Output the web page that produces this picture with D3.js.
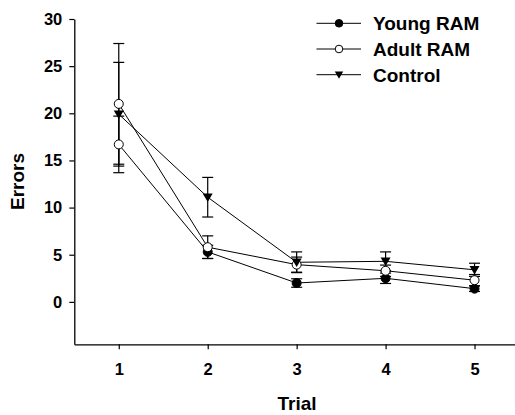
<!DOCTYPE html>
<html>
<head>
<meta charset="utf-8">
<script src="https://cdn.jsdelivr.net/npm/d3@7"></script>
<style>
  body { margin: 0; background: #fff; }
  text { font-family: "Liberation Sans", Arial, sans-serif; font-weight: bold; fill: #000; }
</style>
</head>
<body>
<svg id="chart" width="515" height="415"></svg>
<script>
// chart values
var trials = [1, 2, 3, 4, 5];
var youngMean = [16.7, 5.3, 2.0, 2.5, 1.4];
var youngErr  = [3.0, 0.7, 0.45, 0.55, 0.3];
var adultMean = [21.0, 5.8, 3.95, 3.3, 2.3];
var adultErr  = [6.4, 1.2, 0.8, 0.6, 0.6];
var controlMean = [19.9, 11.1, 4.2, 4.3, 3.4];
var controlErr  = [5.5, 2.1, 1.1, 1.0, 0.7];
var seriesNames = ["Young RAM", "Adult RAM", "Control"];
var yTicks = [0, 5, 10, 15, 20, 25, 30];

var series = [
  {name: seriesNames[0], mean: youngMean, err: youngErr, shape: "filled"},
  {name: seriesNames[1], mean: adultMean, err: adultErr, shape: "open"},
  {name: seriesNames[2], mean: controlMean, err: controlErr, shape: "tri"}
];

var svg = d3.select("#chart");
var x = d3.scaleLinear().domain([0.5, 5.5]).range([74.3, 519]);
var y = d3.scaleLinear().domain([-4.5, 30]).range([344.3, 19]);

// axes
var yAxis = svg.append("g").attr("transform", "translate(74.3,0)")
  .call(d3.axisLeft(y).tickValues(yTicks).tickSize(5).tickPadding(7).tickSizeOuter(0));
var xAxis = svg.append("g").attr("transform", "translate(0,344.3)")
  .call(d3.axisBottom(x).tickValues(trials).tickFormat(d3.format("d")).tickSize(5).tickPadding(14).tickSizeOuter(0));
[yAxis, xAxis].forEach(function(g) {
  g.select(".domain").attr("stroke", "#000").attr("stroke-width", 1.3);
  g.selectAll(".tick line").attr("stroke", "#000").attr("stroke-width", 1.2);
  g.selectAll("text").style("font-size", "16.5px").attr("fill", "#000");
});

svg.append("text").attr("x", 297).attr("y", 410).attr("text-anchor", "middle")
  .style("font-size", "19px").text("Trial");
svg.append("text").attr("transform", "translate(24,181.5) rotate(-90)")
  .attr("text-anchor", "middle").style("font-size", "19px").text("Errors");

function marker(g, kind, cx, cy, r, hollow) {
  if (kind === "tri") {
    g.append("path")
      .attr("d", "M" + (cx - r) + "," + (cy - r * 0.75) + "L" + (cx + r) + "," + (cy - r * 0.75) + "L" + cx + "," + (cy + r * 0.95) + "Z")
      .attr("fill", "#000");
  } else {
    g.append("circle").attr("cx", cx).attr("cy", cy).attr("r", r)
      .attr("fill", (kind === "open" || hollow) ? "#fff" : "#000")
      .attr("stroke", "#000").attr("stroke-width", 1);
  }
}

var line = d3.line().x(function(d) { return x(d[0]); }).y(function(d) { return y(d[1]); });
var plot = svg.append("g");

// error bars
series.forEach(function(s) {
  var g = plot.append("g");
  trials.forEach(function(t, i) {
    var hi = s.mean[i] + s.err[i], lo = s.mean[i] - s.err[i];
    g.append("line").attr("x1", x(t)).attr("x2", x(t)).attr("y1", y(hi)).attr("y2", y(lo))
      .attr("stroke", "#000").attr("stroke-width", 1.2);
    [hi, lo].forEach(function(v) {
      g.append("line").attr("x1", x(t) - 5.5).attr("x2", x(t) + 5.5).attr("y1", y(v)).attr("y2", y(v))
        .attr("stroke", "#000").attr("stroke-width", 1.2);
    });
  });
});

// lines and markers
series.forEach(function(s) {
  var pts = trials.map(function(t, i) { return [t, s.mean[i]]; });
  plot.append("path").datum(pts).attr("d", line)
    .attr("fill", "none").attr("stroke", "#000").attr("stroke-width", 1);
});
series.forEach(function(s) {
  var g = plot.append("g");
  trials.forEach(function(t, i) {
    // the first Young RAM point is drawn hollow in the original figure
    marker(g, s.shape, x(t), y(s.mean[i]), s.shape === "tri" ? 5 : 4.5, s.shape === "filled" && i === 0);
  });
});

// legend
var legend = svg.append("g");
series.forEach(function(s, i) {
  var ly = 23.3 + i * 25.7;
  legend.append("line").attr("x1", 316.5).attr("x2", 361).attr("y1", ly).attr("y2", ly)
    .attr("stroke", "#000").attr("stroke-width", 1);
  marker(legend, s.shape, 339, ly, s.shape === "tri" ? 4.2 : 3.8, false);
  legend.append("text").attr("x", 373).attr("y", ly + 7).style("font-size", "19px").text(s.name);
});
</script>
</body>
</html>
